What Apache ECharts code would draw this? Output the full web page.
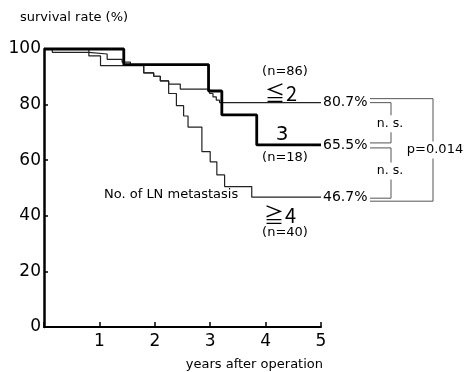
<!DOCTYPE html>
<html><head><meta charset="utf-8">
<script src="https://cdn.jsdelivr.net/npm/echarts@6/dist/echarts.min.js"></script>
<style>html,body{margin:0;padding:0;background:#fff}#c{width:472px;height:372px}</style>
</head><body><div id="c"></div>
<script>
// Kaplan-Meier curves (years after operation, survival %)
const yearsLe2 = [0, 0.15, 0.81, 1.14, 1.41, 1.56, 1.80, 1.98, 2.10, 2.25, 2.46, 2.99, 3.05, 3.11, 3.17, 5.0];
const survLe2  = [100, 98.8, 98.2, 96.3, 95.3, 94.2, 91.4, 90.2, 88.5, 87.4, 85.6, 84.0, 82.8, 81.6, 80.7, 80.7];
const years3 = [0, 1.44, 2.97, 3.21, 3.84, 5.0];
const surv3  = [100, 94.4, 84.9, 76.3, 65.5, 65.5];
const yearsGe4 = [0, 0.81, 1.02, 1.80, 1.98, 2.10, 2.25, 2.39, 2.52, 2.60, 2.85, 3.00, 3.12, 3.26, 3.75, 5.0];
const survGe4  = [100, 97.5, 94.0, 91.4, 90.2, 88.5, 84.0, 79.6, 75.9, 71.9, 63.1, 59.4, 54.7, 50.5, 46.7, 46.7];
const xTicks = [1, 2, 3, 4, 5];
const yTicks = [0, 20, 40, 60, 80, 100];
const pValue = 'p=0.014';
const nsText = 'n. s.';

const zip = (xs, ys) => xs.map((x, i) => [x, ys[i]]);
const FONT = '"DejaVu Sans", Verdana, sans-serif';
const chart = echarts.init(document.getElementById('c'), null, {renderer: 'canvas'});

function mkSeries(name, xs, ys, width) {
  return {
    name, type: 'line', step: 'end', symbol: 'none', clip: false,
    data: zip(xs, ys),
    lineStyle: {color: width > 2 ? '#000' : '#222', width},
    endLabel: {show: true, distance: 2, formatter: p => p.value[1].toFixed(1) + '%',
      fontFamily: FONT, fontSize: 14, color: '#000'},
    emphasis: {disabled: true}
  };
}

chart.setOption({
  animation: false,
  backgroundColor: '#fff',
  grid: {left: 44, top: 49, right: 151, bottom: 45},
  xAxis: {
    type: 'value', min: 0, max: 5, interval: 1,
    axisLine: {lineStyle: {color: '#000', width: 2}},
    axisTick: {inside: true, length: 5, lineStyle: {color: '#000', width: 1.5}},
    axisLabel: {fontFamily: FONT, fontSize: 17, color: '#000', margin: 6,
      formatter: v => xTicks.includes(v) ? String(v) : ''},
    splitLine: {show: false}
  },
  yAxis: {
    type: 'value', min: 0, max: 100, interval: 20,
    axisLine: {show: true, lineStyle: {color: '#000', width: 2.5}},
    axisTick: {show: true, inside: true, length: 4, lineStyle: {color: '#000', width: 1.5}},
    axisLabel: {fontFamily: FONT, fontSize: 17, color: '#000', margin: 3,
      formatter: v => yTicks.includes(v) ? String(v) : ''},
    splitLine: {show: false}
  },
  series: [
    mkSeries('le2', yearsLe2, survLe2, 1.2),
    mkSeries('ge4', yearsGe4, survGe4, 1.2),
    mkSeries('three', years3, surv3, 2.8)
  ]
});

const yPx = v => chart.convertToPixel({gridIndex: 0}, [5, v])[1];
const yA = yPx(survLe2[survLe2.length - 1]);
const yB = yPx(surv3[surv3.length - 1]);
const yC = yPx(survGe4[survGe4.length - 1]);
const gray = {stroke: '#555', lineWidth: 1, fill: null};
const txt = (x, y, text, size, extra) => Object.assign({
  type: 'text', x, y, z: 10,
  style: Object.assign({text, fontFamily: FONT, fontSize: size, fill: '#000',
    textVerticalAlign: 'middle', textAlign: 'left'}, extra || {})
});
const poly = pts => ({type: 'polyline', shape: {points: pts}, style: gray, z: 5});
const CJK = '"Noto Sans CJK JP", ' + FONT;

chart.setOption({
  graphic: [
    txt(20, 18, 'survival rate (%)', 13),
    txt(323, 365, 'years after operation', 13, {textAlign: 'right'}),
    txt(285, 72, '(n=86)', 13, {textAlign: 'center'}),
    txt(265, 93, '≦', 20, {fontFamily: CJK}),
    txt(286, 93, '2', 20, {fontFamily: CJK}),
    txt(282, 135, '3', 20, {textAlign: 'center'}),
    txt(285, 158, '(n=18)', 13, {textAlign: 'center'}),
    txt(104, 195, 'No. of LN metastasis', 13),
    txt(264, 215, '≧', 20, {fontFamily: CJK}),
    txt(285, 215, '4', 20, {fontFamily: CJK}),
    txt(285, 233, '(n=40)', 13, {textAlign: 'center'}),
    poly([[370, yA], [391, yA], [391, yB - 2], [370, yB - 2]]),
    poly([[370, yB + 3], [391, yB + 3], [391, yC + 1], [370, yC + 1]]),
    poly([[370, yA - 4], [433, yA - 4], [433, yC + 4], [370, yC + 4]]),
    txt(390, (yA + yB) / 2, nsText, 12.5, {textAlign: 'center', backgroundColor: '#fff', padding: [2, 1]}),
    txt(390, (yB + yC) / 2, nsText, 12.5, {textAlign: 'center', backgroundColor: '#fff', padding: [2, 1]}),
    txt(435, (yA + yC) / 2, pValue, 13, {textAlign: 'center', backgroundColor: '#fff', padding: [2, 0]})
  ]
});
</script></body></html>
